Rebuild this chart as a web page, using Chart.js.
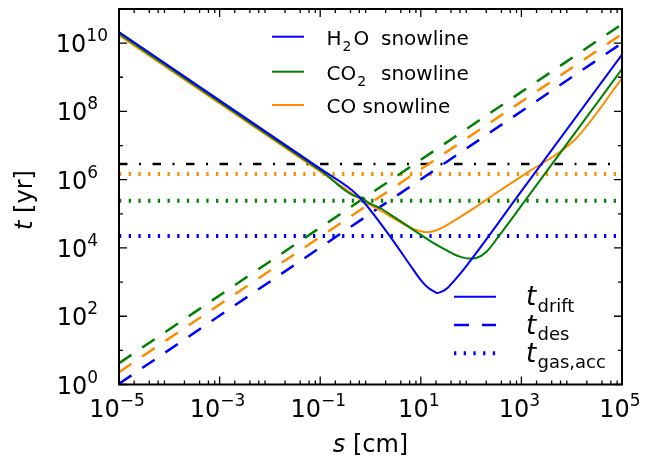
<!DOCTYPE html>
<html>
<head>
<meta charset="utf-8">
<script src="https://cdn.jsdelivr.net/npm/chart.js@4.4.1/dist/chart.umd.min.js"></script>
<style>
  html, body { margin: 0; padding: 0; background: #fff; }
  #wrap { width: 652px; height: 457px; position: relative; }
</style>
</head>
<body>
<div id="wrap"><canvas id="chart-times"></canvas></div>
<script>
// grain size s [cm] and timescales t [yr]

// drift timescales (solid)
const sH2O = [1e-5, 0.1, 0.43, 0.72, 1.55, 3.3, 6.6, 10, 14, 18, 21.4, 26, 33, 45, 81, 1e3, 1e4, 1e5];
const tDriftH2O = [2.1e10, 2.1e6, 4.9e5, 2.3e5, 5.4e4, 1.17e4, 2.7e3, 1.15e3, 680, 540, 480, 525, 650, 1050, 3.0e3, 4.6e5, 4.6e7, 4.6e9];

const sCO2 = [1e-5, 0.1, 0.63, 0.72, 0.79, 1.55, 3.3, 7.1, 15.2, 32.7, 56, 89, 126, 200, 376, 1e3, 1e4, 1e5];
const tDriftCO2 = [1.9e10, 1.9e6, 3.0e5, 2.95e5, 2.45e5, 1.48e5, 7.2e4, 3.4e4, 1.62e4, 8.5e3, 5.75e3, 4.9e3, 5.1e3, 7.6e3, 2.5e4, 1.74e5, 1.74e7, 1.74e9];

const sCO = [1e-5, 0.157, 0.72, 1.55, 3.3, 7.1, 10, 12.6, 17.8, 28.2, 51, 129, 275, 1.28e3, 1.17e4, 1e5];
const tDriftCO = [1.7e10, 1.1e6, 2.34e5, 1.26e5, 6.5e4, 3.6e4, 3.1e4, 2.9e4, 3.1e4, 4.1e4, 6.9e4, 1.66e5, 3.55e5, 1.58e6, 1.51e7, 9.3e8];

// desorption timescales (dashed), straight in log-log
const sEdges = [1e-5, 1e5];
const tDesH2O = [1.05, 1.0e10];
const tDesCO2 = [4.2, 3.6e10];
const tDesCO = [2.3, 1.85e10];

// gas accretion timescales (dotted) and disk lifetime (dash-dot)
const tGasH2O = [2.25e4, 2.25e4];
const tGasCO2 = [2.4e5, 2.4e5];
const tGasCO = [1.46e6, 1.46e6];
const tDisk = [2.9e6, 2.9e6];

// axis ticks
const xLabelExps = [-5, -3, -1, 1, 3, 5];
const xMinorSubs = [2, 4, 6, 8];
const yLabelExps = [0, 2, 4, 6, 8, 10];
const yMinorExps = [1, 3, 5, 7, 9];

const BLUE = '#0000ff';
const GREEN = '#008000';
const ORANGE = '#ff8c00';
const FONT = '"DejaVu Sans", sans-serif';

const SOLID = [];
const DASHED = [15, 13];
const DOTTED = [2.3, 7.4];
const DASHDOT = [8.5, 11.5, 2, 11.5];

function line(label, xs, ys, color, width, dash, smooth) {
  return {
    label,
    data: xs.map((v, i) => ({x: v, y: ys[i]})),
    borderColor: color,
    borderWidth: width,
    borderDash: dash,
    pointRadius: 0,
    cubicInterpolationMode: smooth ? `monotone` : `default`,
    tension: 0,
    fill: false,
  };
}

// "10" with a superscript exponent
function powLabel(ctx, exp, x, base, align) {
  const main = '10';
  const sup = String(exp).replace('-', '\u2212');
  ctx.font = `24px ${FONT}`;
  const w1 = ctx.measureText(main).width;
  ctx.font = `17px ${FONT}`;
  const w2 = ctx.measureText(sup).width;
  const x0 = align === `center` ? x - (w1 + w2) / 2 : x - (w1 + w2);
  ctx.font = `24px ${FONT}`;
  ctx.fillText(main, x0, base);
  ctx.font = `17px ${FONT}`;
  ctx.fillText(sup, x0 + w1, base - 11);
}

function sample(ctx, x0, x1, y, color, width, dash) {
  ctx.save();
  ctx.strokeStyle = color;
  ctx.lineWidth = width;
  ctx.setLineDash(dash);
  ctx.beginPath();
  ctx.moveTo(x0, y);
  ctx.lineTo(x1, y);
  ctx.stroke();
  ctx.restore();
}

const frame = {
  id: `frame`,
  afterDraw(chart) {
    const {ctx, chartArea: a} = chart;
    const xs = chart.scales.x;
    const ys = chart.scales.y;
    ctx.save();
    ctx.fillStyle = `#000`;
    ctx.strokeStyle = `#000`;

    // inward ticks on all four sides
    ctx.lineWidth = 1.3;
    const xTick = (v, len) => {
      const px = xs.getPixelForValue(v);
      ctx.beginPath();
      ctx.moveTo(px, a.bottom); ctx.lineTo(px, a.bottom - len);
      ctx.moveTo(px, a.top); ctx.lineTo(px, a.top + len);
      ctx.stroke();
    };
    const yTick = (v, len) => {
      const py = ys.getPixelForValue(v);
      ctx.beginPath();
      ctx.moveTo(a.left, py); ctx.lineTo(a.left + len, py);
      ctx.moveTo(a.right, py); ctx.lineTo(a.right - len, py);
      ctx.stroke();
    };
    xLabelExps.forEach(e => xTick(Math.pow(10, e), 8));
    for (let e = -5; e < 5; e++) {
      xMinorSubs.forEach(m => xTick(m * Math.pow(10, e), 4));
    }
    yLabelExps.forEach(e => yTick(Math.pow(10, e), 8));
    yMinorExps.forEach(e => yTick(Math.pow(10, e), 4));

    // frame
    ctx.lineWidth = 2;
    ctx.strokeRect(a.left, a.top, a.right - a.left, a.bottom - a.top);

    // tick labels
    ctx.textBaseline = `alphabetic`;
    xLabelExps.forEach(e => {
      powLabel(ctx, e, xs.getPixelForValue(Math.pow(10, e)) - 2, a.bottom + 32.5, `center`);
    });
    yLabelExps.forEach(e => {
      const right = String(e).length > 1 ? 108 : 98;
      powLabel(ctx, e, right, ys.getPixelForValue(Math.pow(10, e)) + 9, `right`);
    });

    // axis titles
    ctx.font = `italic 24px ${FONT}`;
    const ws = ctx.measureText(`s`).width;
    ctx.font = `24px ${FONT}`;
    const wr = ctx.measureText(` [cm]`).width;
    let x0 = (a.left + a.right) / 2 - (ws + wr) / 2;
    ctx.font = `italic 24px ${FONT}`;
    ctx.fillText(`s`, x0, 451.5);
    ctx.font = `24px ${FONT}`;
    ctx.fillText(` [cm]`, x0 + ws, 451.5);

    ctx.save();
    ctx.translate(31.5, 200);
    ctx.rotate(-Math.PI / 2);
    ctx.font = `italic 24px ${FONT}`;
    const wt = ctx.measureText(`t`).width;
    ctx.font = `24px ${FONT}`;
    const wy = ctx.measureText(` [yr]`).width;
    x0 = -(wt + wy) / 2;
    ctx.font = `italic 24px ${FONT}`;
    ctx.fillText(`t`, x0, 0);
    ctx.font = `24px ${FONT}`;
    ctx.fillText(` [yr]`, x0 + wt, 0);
    ctx.restore();

    // legend: snowlines (colour)
    const rows = [36.7, 71.7, 105];
    sample(ctx, 272, 304, rows[0], BLUE, 2, SOLID);
    sample(ctx, 272, 304, rows[1], GREEN, 2, SOLID);
    sample(ctx, 272, 304, rows[2], ORANGE, 2, SOLID);
    ctx.font = `20px ${FONT}`;
    const wH = ctx.measureText(`H`).width;
    const wCO = ctx.measureText(`CO`).width;
    ctx.fillText(`H`, 326.5, rows[0] + 8);
    ctx.fillText(`O`, 326.5 + wH + 12, rows[0] + 8);
    ctx.fillText(`snowline`, 381, rows[0] + 8);
    ctx.fillText(`CO`, 326.5, rows[1] + 8);
    ctx.fillText(`snowline`, 381, rows[1] + 8);
    ctx.fillText(`CO snowline`, 326.5, rows[2] + 8);
    ctx.font = `14px ${FONT}`;
    ctx.fillText(`2`, 326.5 + wH + 1, rows[0] + 14);
    ctx.fillText(`2`, 326.5 + wCO + 1, rows[1] + 14);

    // legend: timescales (line style)
    const rows2 = [296.7, 325, 353.3];
    sample(ctx, 454, 496, rows2[0], BLUE, 2, SOLID);
    sample(ctx, 454, 496, rows2[1], BLUE, 2.5, DASHED);
    sample(ctx, 454, 496, rows2[2], BLUE, 4, DOTTED);
    const subs = [`drift`, `des`, `gas,acc`];
    subs.forEach((s, i) => {
      ctx.font = `italic 26px ${FONT}`;
      ctx.fillText(`t`, 526, rows2[i] + 8.5);
      ctx.font = `18px ${FONT}`;
      ctx.fillText(s, 537.5, rows2[i] + 15);
    });

    ctx.restore();
  }
};

const ctxTimes = document.getElementById(`chart-times`);
const chartTimes = new Chart(ctxTimes, {
  type: `line`,
  data: {
    datasets: [
      line(`H2O drift`, sH2O, tDriftH2O, BLUE, 2, SOLID, true),
      line(`CO2 drift`, sCO2, tDriftCO2, GREEN, 2, SOLID, true),
      line(`CO drift`, sCO, tDriftCO, ORANGE, 2, SOLID, true),
      line(`H2O des`, sEdges, tDesH2O, BLUE, 2.5, DASHED),
      line(`CO2 des`, sEdges, tDesCO2, GREEN, 2.5, DASHED),
      line(`CO des`, sEdges, tDesCO, ORANGE, 2.5, DASHED),
      line(`H2O gas acc`, sEdges, tGasH2O, BLUE, 4, DOTTED),
      line(`CO2 gas acc`, sEdges, tGasCO2, GREEN, 4, DOTTED),
      line(`CO gas acc`, sEdges, tGasCO, ORANGE, 4, DOTTED),
      line(`disk lifetime`, sEdges, tDisk, `#000`, 2.5, DASHDOT),
    ]
  },
  options: {
    responsive: true,
    maintainAspectRatio: false,
    animation: false,
    layout: {
      padding: {left: 119, right: 30, top: 9, bottom: 72.5}
    },
    scales: {
      x: {type: `logarithmic`, min: 1e-5, max: 1e5, display: false},
      y: {type: `logarithmic`, min: 1, max: 1e11, display: false}
    },
    plugins: {
      legend: {display: false},
      tooltip: {enabled: false}
    }
  },
  plugins: [frame]
});
</script>
</body>
</html>
